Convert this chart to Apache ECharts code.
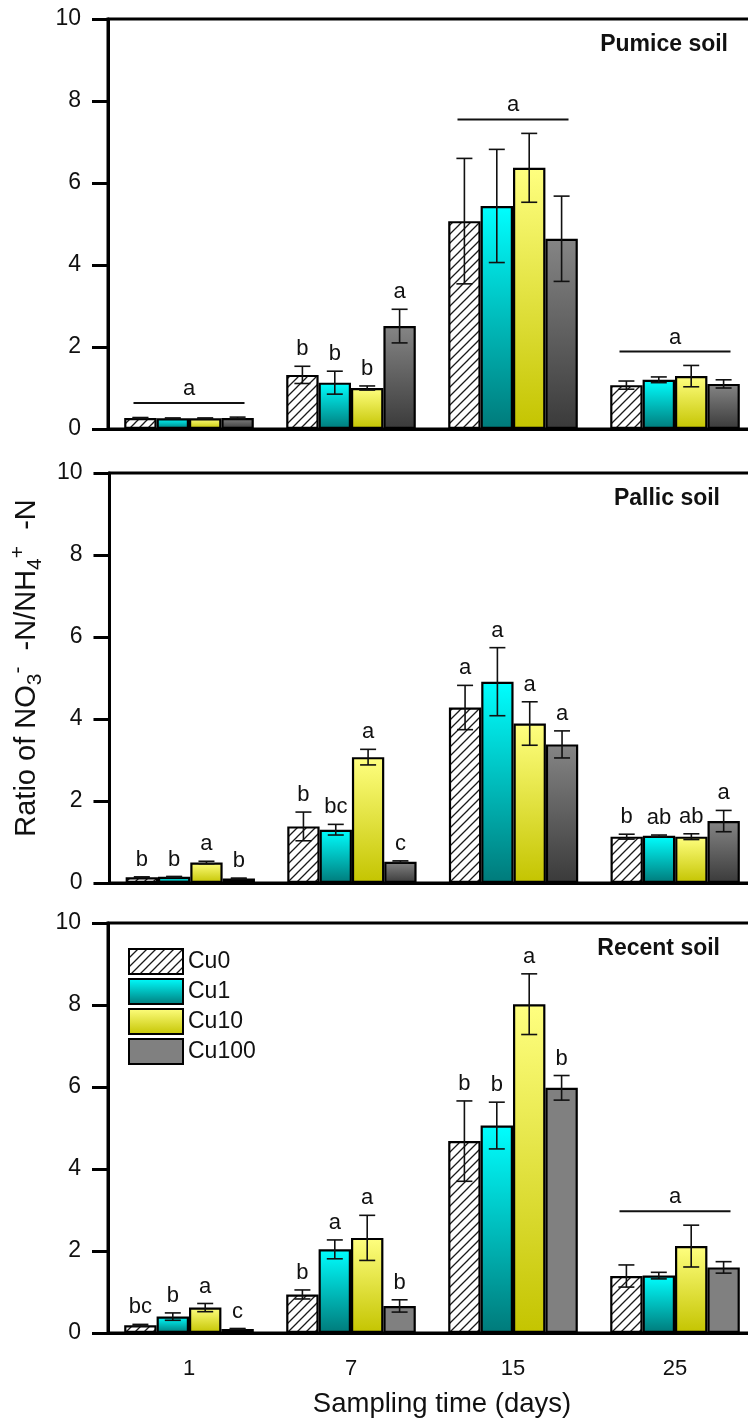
<!DOCTYPE html>
<html>
<head>
<meta charset="utf-8">
<script src="https://cdn.jsdelivr.net/npm/echarts@6/dist/echarts.min.js"></script>
<style>
  html, body { margin: 0; padding: 0; background: #fff; overflow: hidden; }
  #chart { width: 758px; height: 1423px; }
</style>
</head>
<body>
<div id="chart"></div>
<script>
// Categories and treatments
const days = ['1', '7', '15', '25'];
const treatments = ['Cu0', 'Cu1', 'Cu10', 'Cu100'];
const soilNames = ['Pumice soil', 'Pallic soil', 'Recent soil'];

// Pumice soil: means and standard errors
const pumiceCu0 = [0.27, 1.32, 5.07, 1.07];
const pumiceCu1 = [0.26, 1.13, 5.44, 1.20];
const pumiceCu10 = [0.26, 1.00, 6.37, 1.29];
const pumiceCu100 = [0.27, 2.51, 4.64, 1.10];
const pumiceErrCu0 = [0.01, 0.21, 1.53, 0.10];
const pumiceErrCu1 = [0.01, 0.28, 1.38, 0.07];
const pumiceErrCu10 = [0.01, 0.05, 0.84, 0.26];
const pumiceErrCu100 = [0.02, 0.41, 1.04, 0.10];
const pumiceLetCu0 = ['', 'b', '', ''];
const pumiceLetCu1 = ['', 'b', '', ''];
const pumiceLetCu10 = ['', 'b', '', ''];
const pumiceLetCu100 = ['', 'a', '', ''];
const pumiceGroupLet = ['a', '', 'a', 'a'];

// Pallic soil
const pallicCu0 = [0.14, 1.38, 4.28, 1.13];
const pallicCu1 = [0.15, 1.30, 4.91, 1.15];
const pallicCu10 = [0.50, 3.07, 3.89, 1.13];
const pallicCu100 = [0.11, 0.52, 3.38, 1.51];
const pallicErrCu0 = [0.01, 0.35, 0.54, 0.06];
const pallicErrCu1 = [0.01, 0.13, 0.83, 0.02];
const pallicErrCu10 = [0.03, 0.19, 0.53, 0.07];
const pallicErrCu100 = [0.01, 0.02, 0.33, 0.26];
const pallicLetCu0 = ['b', 'b', 'a', 'b'];
const pallicLetCu1 = ['b', 'bc', 'a', 'ab'];
const pallicLetCu10 = ['a', 'a', 'a', 'ab'];
const pallicLetCu100 = ['b', 'c', 'a', 'a'];
const pallicGroupLet = ['', '', '', ''];

// Recent soil
const recentCu0 = [0.19, 0.94, 4.68, 1.39];
const recentCu1 = [0.40, 2.04, 5.06, 1.40];
const recentCu10 = [0.62, 2.32, 8.02, 2.12];
const recentCu100 = [0.10, 0.66, 5.98, 1.60];
const recentErrCu0 = [0.02, 0.11, 0.98, 0.27];
const recentErrCu1 = [0.09, 0.23, 0.57, 0.08];
const recentErrCu10 = [0.10, 0.55, 0.74, 0.51];
const recentErrCu100 = [0.01, 0.15, 0.30, 0.14];
const recentLetCu0 = ['bc', 'b', 'b', ''];
const recentLetCu1 = ['b', 'a', 'b', ''];
const recentLetCu10 = ['a', 'a', 'a', ''];
const recentLetCu100 = ['c', 'b', 'b', ''];
const recentGroupLet = ['', '', '', 'a'];

// Axis scale
const yMin = 0, yMax = 10, yStep = 2;

const panels = [
  { means: [pumiceCu0, pumiceCu1, pumiceCu10, pumiceCu100],
    errs: [pumiceErrCu0, pumiceErrCu1, pumiceErrCu10, pumiceErrCu100],
    letters: [pumiceLetCu0, pumiceLetCu1, pumiceLetCu10, pumiceLetCu100],
    group: pumiceGroupLet },
  { means: [pallicCu0, pallicCu1, pallicCu10, pallicCu100],
    errs: [pallicErrCu0, pallicErrCu1, pallicErrCu10, pallicErrCu100],
    letters: [pallicLetCu0, pallicLetCu1, pallicLetCu10, pallicLetCu100],
    group: pallicGroupLet },
  { means: [recentCu0, recentCu1, recentCu10, recentCu100],
    errs: [recentErrCu0, recentErrCu1, recentErrCu10, recentErrCu100],
    letters: [recentLetCu0, recentLetCu1, recentLetCu10, recentLetCu100],
    group: recentGroupLet }
];

// ---- layout & styling ----
const FONT = '"Liberation Sans", Arial, sans-serif';
const gridTops = [19, 473, 923];
const gridH = 410, gridLeft = 108, gridW = 648;
const catGapRatio = 0.2;

function hatchCanvas() {
  const s = 9;
  const c = document.createElement('canvas');
  c.width = s; c.height = s;
  const g = c.getContext('2d');
  g.fillStyle = '#ffffff';
  g.fillRect(0, 0, s, s);
  g.strokeStyle = '#1a1a1a';
  g.lineWidth = 1.3;
  g.beginPath();
  g.moveTo(-1, s + 1); g.lineTo(s + 1, -1);
  g.moveTo(-1, 1); g.lineTo(1, -1);
  g.moveTo(s - 1, s + 1); g.lineTo(s + 1, s - 1);
  g.stroke();
  return c;
}
const hatch = { image: hatchCanvas(), repeat: 'repeat' };
function vgrad(top, bottom) {
  return new echarts.graphic.LinearGradient(0, 0, 0, 1, [
    { offset: 0, color: top }, { offset: 1, color: bottom }
  ]);
}
function fillFor(panelIdx, t) {
  if (t === 0) return hatch;
  if (t === 1) return vgrad('#00ffff', '#007a7a');
  if (t === 2) return vgrad('#ffff80', '#c4c400');
  return panelIdx === 2 ? '#808080' : vgrad('#858585', '#3a3a3a');
}

const grids = [], xAxes = [], yAxes = [], series = [], titles = [];

panels.forEach((p, i) => {
  grids.push({
    left: gridLeft, top: gridTops[i], width: gridW, height: gridH,
    show: true, borderColor: '#000', borderWidth: 3, backgroundColor: 'transparent'
  });
  xAxes.push({
    gridIndex: i, type: 'category', data: days,
    axisLine: { lineStyle: { color: '#000', width: 3 } },
    axisTick: { alignWithLabel: true, length: 16, lineStyle: { color: '#000', width: 3 } },
    axisLabel: { show: i === 2, fontSize: 22, color: '#111', fontFamily: FONT, margin: 25 },
    name: i === 2 ? 'Sampling time (days)' : '',
    nameLocation: 'middle', nameGap: 57,
    nameTextStyle: { fontSize: 27.5, color: '#111', fontFamily: FONT, padding: [0, 0, 0, 20] }
  });
  yAxes.push({
    gridIndex: i, type: 'value', min: yMin, max: yMax, interval: yStep,
    splitLine: { show: false },
    axisLine: { show: true, lineStyle: { color: '#000', width: 3 } },
    axisTick: { show: true, length: 16, lineStyle: { color: '#000', width: 3 } },
    axisLabel: { fontSize: 23, color: '#111', fontFamily: FONT, margin: 27 },
    name: i === 1 ? '{m|Ratio of NO}{sb|3}{sp|-}{m|  -N/NH}{sb|4}{sp|+}{m|  -N}' : '',
    nameLocation: 'middle', nameRotate: 90, nameGap: 55,
    nameTextStyle: {
      color: '#111', fontFamily: FONT, fontSize: 29, lineHeight: 38, padding: [0, 0, 0, 20],
      rich: {
        m: { fontSize: 29, lineHeight: 38, verticalAlign: 'middle', fontFamily: FONT, color: '#111' },
        sb: { fontSize: 21, lineHeight: 21, verticalAlign: 'bottom', fontFamily: FONT, color: '#111' },
        sp: { fontSize: 21, lineHeight: 21, verticalAlign: 'top', fontFamily: FONT, color: '#111' }
      }
    }
  });
  titles.push({
    text: soilNames[i], right: i === 0 ? 30 : 38, top: gridTops[i] + 14, padding: 0,
    textStyle: { fontSize: 23, fontWeight: 'bold', color: '#111', fontFamily: FONT }
  });

  treatments.forEach((t, k) => {
    series.push({
      type: 'bar', name: t, xAxisIndex: i, yAxisIndex: i,
      data: p.means[k],
      barGap: '0%', barCategoryGap: (catGapRatio * 100) + '%',
      itemStyle: { color: fillFor(i, k), borderColor: '#000', borderWidth: 2.2 },
      emphasis: { disabled: true },
      z: 2
    });
  });

  // Error bars, significance letters and group brackets
  series.push({
    type: 'custom', xAxisIndex: i, yAxisIndex: i, z: 5, silent: true,
    data: days.map((d, c) => [c, 0]),
    encode: { x: 0, y: 1 },
    renderItem: function (params, api) {
      const c = api.value(0);
      const band = api.size([1, 0])[0];
      const bw = band * (1 - catGapRatio) / treatments.length;
      const center = api.coord([c, 0])[0];
      const kids = [];
      let topMost = Infinity;
      for (let k = 0; k < treatments.length; k++) {
        const m = p.means[k][c], e = p.errs[k][c];
        const cx = center + (k - (treatments.length - 1) / 2) * bw;
        const yHi = api.coord([c, m + e])[1];
        const yLo = api.coord([c, m - e])[1];
        const yBar = api.coord([c, m])[1];
        topMost = Math.min(topMost, yHi, yBar);
        const st = { stroke: '#111', lineWidth: 1.6 };
        kids.push({ type: 'line', shape: { x1: cx, y1: yHi, x2: cx, y2: yLo }, style: st });
        kids.push({ type: 'line', shape: { x1: cx - 8, y1: yHi, x2: cx + 8, y2: yHi }, style: st });
        kids.push({ type: 'line', shape: { x1: cx - 8, y1: yLo, x2: cx + 8, y2: yLo }, style: st });
        const txt = p.letters[k][c];
        if (txt) {
          kids.push({ type: 'text', x: cx, y: Math.min(yHi, yBar) - 6,
            style: { text: txt, fill: '#111', fontSize: 22, fontFamily: FONT, align: 'center', verticalAlign: 'bottom' } });
        }
      }
      const g = p.group[c];
      if (g) {
        const ly = topMost - 14;
        const half = band * 0.355;
        kids.push({ type: 'line', shape: { x1: center - half + 2, y1: ly, x2: center + half - 2, y2: ly },
          style: { stroke: '#111', lineWidth: 2 } });
        kids.push({ type: 'text', x: center, y: ly - 3,
          style: { text: g, fill: '#111', fontSize: 22, fontFamily: FONT, align: 'center', verticalAlign: 'bottom' } });
      }
      return { type: 'group', children: kids };
    }
  });
});

const legendFills = treatments.map((t, k) => k === 3 ? '#808080' : fillFor(2, k));

const chart = echarts.init(document.getElementById('chart'), null, { renderer: 'canvas' });
chart.setOption({
  animation: false,
  backgroundColor: '#ffffff',
  title: titles,
  grid: grids,
  xAxis: xAxes,
  yAxis: yAxes,
  legend: {
    left: 128, top: 948, padding: 0, orient: 'vertical', selectedMode: false,
    itemWidth: 54, itemHeight: 25, itemGap: 3,
    textStyle: { fontSize: 23, color: '#111', fontFamily: FONT },
    data: treatments.map((t, k) => ({
      name: t, icon: 'rect',
      itemStyle: { color: legendFills[k], borderColor: '#000', borderWidth: 2 }
    }))
  },
  series: series
});
</script>
</body>
</html>
